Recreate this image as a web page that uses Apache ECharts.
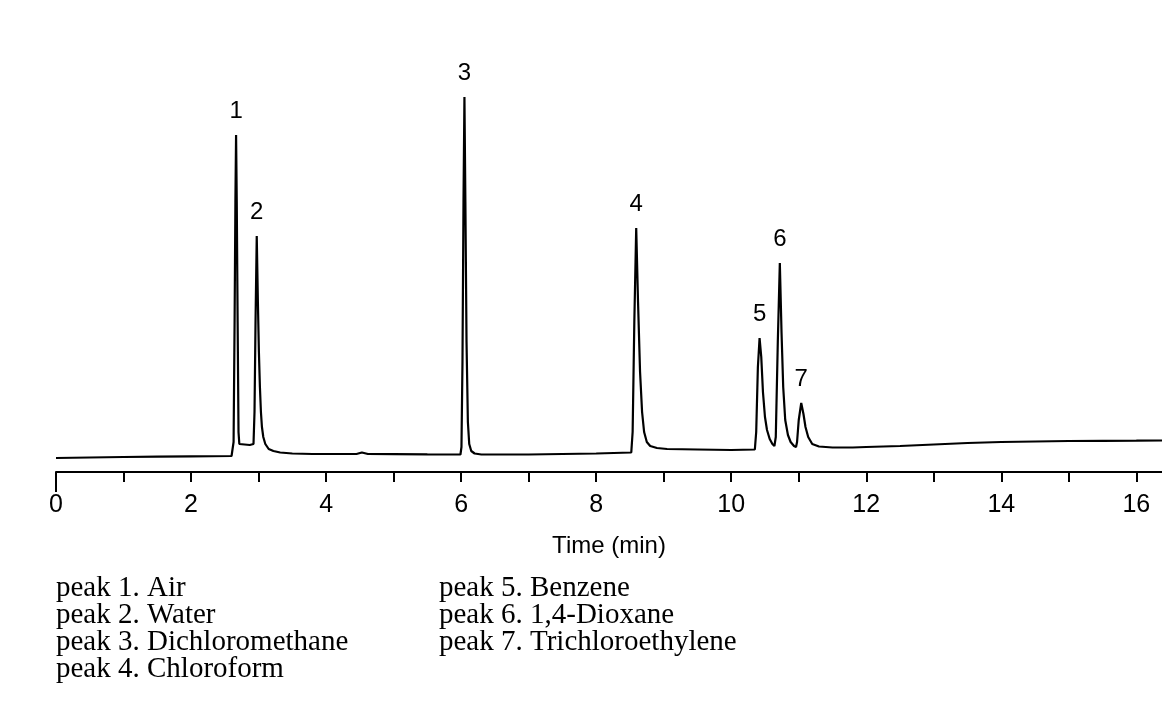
<!DOCTYPE html>
<html>
<head>
<meta charset="utf-8">
<script src="https://cdn.jsdelivr.net/npm/echarts@6/dist/echarts.min.js"></script>
<style>
  html, body { margin: 0; padding: 0; background: #fff; }
  #chart { width: 1162px; height: 720px; }
</style>
</head>
<body>
<div id="chart"></div>
<script>
// Chromatogram trace: retention time (min) and detector signal (arbitrary units)
const traceTime = [
  0, 0.5, 1.0, 1.5, 2.0, 2.6,
  2.63, 2.645, 2.657, 2.667, 2.677, 2.69, 2.703, 2.715, 2.74, 2.87,
  2.925, 2.94, 2.955, 2.973, 2.99, 3.005, 3.02, 3.035, 3.05, 3.07, 3.1,
  3.15, 3.22, 3.32, 3.5, 3.8, 4.2, 4.45, 4.53, 4.62, 5.0, 5.5,
  5.99, 6.005, 6.02, 6.035, 6.049, 6.063, 6.08, 6.1, 6.12, 6.15, 6.2, 6.3,
  7.0, 7.5, 8.0, 8.52,
  8.54, 8.565, 8.593, 8.62, 8.65, 8.68, 8.71, 8.75, 8.8, 8.9, 9.05,
  9.5, 10.0, 10.35,
  10.37, 10.395, 10.42, 10.445, 10.47, 10.5, 10.53, 10.57, 10.61, 10.64,
  10.66, 10.69, 10.72, 10.745, 10.77, 10.8, 10.84, 10.88, 10.93, 10.96,
  10.975, 11.0, 11.037, 11.07, 11.1, 11.14, 11.2, 11.3, 11.5, 11.8,
  12.0, 12.5, 13.0, 13.5, 14.0, 14.5, 15.0, 15.5, 16.0, 16.38
];
const traceSignal = [
  14, 14.5, 15, 15.3, 15.6, 16,
  30, 150, 270, 337, 270, 150, 40, 28, 26, 27,
  28, 60, 150, 236, 170, 120, 85, 60, 45, 35, 28,
  23, 21, 19.5, 18.5, 18, 18, 18, 19.5, 18, 17.8, 17.6,
  17.5, 25, 110, 270, 375, 270, 130, 50, 28, 21, 18.5, 17.5,
  17.5, 18, 18.5, 19.5,
  40, 150, 244, 170, 100, 60, 40, 30, 26, 24, 23,
  22.5, 22, 22.5,
  40, 105, 134, 115, 80, 55, 42, 33, 28, 26,
  35, 130, 209, 140, 85, 52, 37, 30, 26, 25,
  30, 52, 69, 58, 45, 35, 28, 25.5, 24.5, 24.5,
  25, 26, 27.5, 29, 30, 30.5, 31, 31.2, 31.3, 31.5
];

// Peak apexes and their identities
const peakNumbers = ['1', '2', '3', '4', '5', '6', '7'];
const peakTimes = [2.667, 2.973, 6.049, 8.593, 10.42, 10.72, 11.037];
const peakHeights = [337, 236, 375, 244, 134, 209, 69];
const peakCompounds = ['Air', 'Water', 'Dichloromethane', 'Chloroform',
  'Benzene', '1,4-Dioxane', 'Trichloroethylene'];

// Time axis ticks
const tickValues = [0, 1, 2, 3, 4, 5, 6, 7, 8, 9, 10, 11, 12, 13, 14, 15, 16];
const tickLabels = [0, 2, 4, 6, 8, 10, 12, 14, 16];
const axisTitle = 'Time (min)';

const sans = 'Liberation Sans, Arial, sans-serif';
const serif = 'Liberation Serif, Times New Roman, serif';

const tracePoints = traceTime.map((t, i) => [t, traceSignal[i]]);
const peakPoints = peakTimes.map((t, i) => ({ value: [t, peakHeights[i]], name: peakNumbers[i] }));

// Peak key below the axis, two columns
const keyLines = peakCompounds.map((c, i) => 'peak ' + peakNumbers[i] + '. ' + c);
const keyGraphics = keyLines.map((txt, i) => ({
  type: 'text',
  left: i < 4 ? 56 : 439,
  top: 574 + (i % 4) * 27,
  style: { text: txt, font: '29px ' + serif, fill: '#000' }
}));

const chart = echarts.init(document.getElementById('chart'), null, { renderer: 'canvas' });
chart.setOption({
  animation: false,
  backgroundColor: '#fff',
  grid: { left: 56, right: 0, top: 72, bottom: 248 },
  xAxis: {
    type: 'value',
    min: 0,
    max: 16.38,
    interval: 1,
    name: axisTitle,
    nameLocation: 'middle',
    nameGap: 62,
    nameTextStyle: { color: '#000', fontFamily: sans, fontSize: 24 },
    axisLine: { show: true, lineStyle: { color: '#000', width: 2 } },
    axisTick: { show: true, inside: false, length: 10, lineStyle: { color: '#000', width: 2 }, customValues: tickValues },
    axisLabel: { show: true, color: '#000', fontFamily: sans, fontSize: 25, margin: 21, customValues: tickLabels },
    splitLine: { show: false }
  },
  yAxis: {
    type: 'value',
    min: 0,
    max: 400,
    show: false
  },
  series: [{
    type: 'line',
    data: tracePoints,
    showSymbol: false,
    symbol: 'none',
    smooth: false,
    lineStyle: { color: '#000', width: 2.2 },
    emphasis: { disabled: true },
    z: 3
  }, {
    type: 'scatter',
    data: peakPoints,
    symbolSize: 0,
    itemStyle: { opacity: 1 },
    emphasis: { disabled: true },
    label: {
      show: true,
      position: 'top',
      distance: 12,
      formatter: p => p.name,
      color: '#000',
      opacity: 1,
      fontFamily: sans,
      fontSize: 24
    },
    z: 4
  }],
  graphic: keyGraphics
});

// Longer tick at the time origin, placed through the axis scale
const origin = chart.convertToPixel({ gridIndex: 0 }, [0, 0]);
chart.setOption({
  graphic: keyGraphics.concat([{
    type: 'line',
    shape: { x1: origin[0], y1: origin[1], x2: origin[0], y2: origin[1] + 20 },
    style: { stroke: '#000', lineWidth: 2 }
  }])
});
</script>
</body>
</html>
